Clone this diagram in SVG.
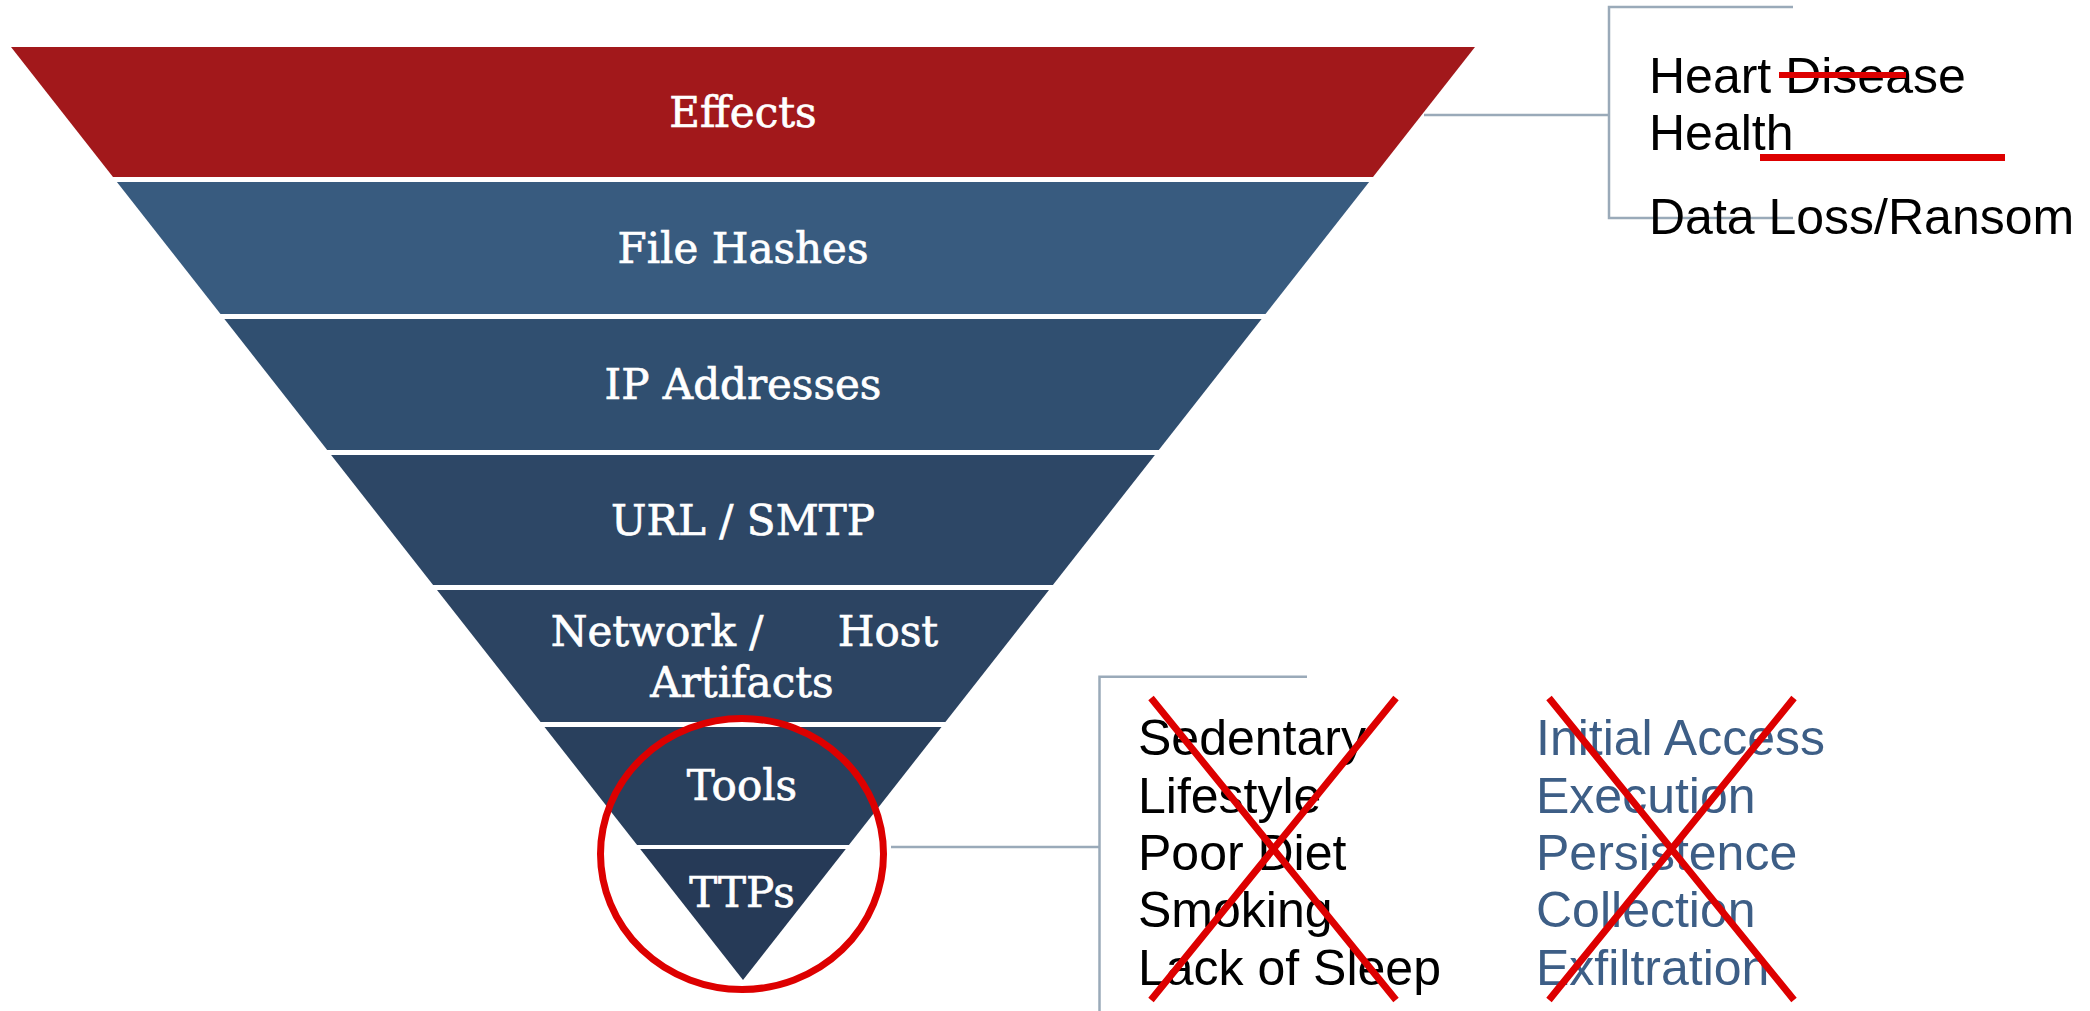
<svg xmlns="http://www.w3.org/2000/svg" width="2090" height="1011" viewBox="0 0 2090 1011">
<style>
.lbl{font-family:"DejaVu Serif","Liberation Serif",serif;font-size:42px;fill:#ffffff;stroke:#ffffff;stroke-width:0.7;text-anchor:middle}
.side{font-family:"Liberation Sans",Arial,sans-serif;font-size:50px}
.blk{fill:#000000}
.blu{fill:#3d5e86}
.conn{stroke:#9aaab9;stroke-width:2.5;fill:none}
.red{stroke:#dd0000;fill:none}
</style>
<rect width="2090" height="1011" fill="#ffffff"/>
<g id="band-effects">
<polygon points="11,47 1475,47 1373,177 113,177" fill="#a2181b"/>
<text class="lbl" x="743" y="127">Effects</text>
</g>
<g id="band-file-hashes">
<polygon points="116.9,182 1369.1,182 1265.5,314 220.5,314" fill="#385b7f"/>
<text class="lbl" x="743" y="263">File Hashes</text>
</g>
<g id="band-ip-addresses">
<polygon points="224.4,319 1261.6,319 1158.8,450 327.2,450" fill="#304f70"/>
<text class="lbl" x="743" y="399">IP Addresses</text>
</g>
<g id="band-url-smtp">
<polygon points="331.1,455 1154.9,455 1052.9,585 433.1,585" fill="#2d4766"/>
<text class="lbl" x="743" y="535">URL / SMTP</text>
</g>
<g id="band-network-host">
<polygon points="437,590 1049,590 945.4,722 540.6,722" fill="#2c4462"/>
<text class="lbl" y="646"><tspan x="657">Network /</tspan><tspan x="888">Host</tspan></text>
<text class="lbl" x="742" y="697">Artifacts</text>
</g>
<g id="band-tools">
<polygon points="544.5,727 941.5,727 848.9,845 637.1,845" fill="#29405d"/>
<text class="lbl" x="742" y="800">Tools</text>
</g>
<g id="band-ttps">
<polygon points="640.2,849 845.8,849 743,980" fill="#263a57"/>
<text class="lbl" x="742" y="907">TTPs</text>
</g>
<g id="connectors">
<path class="conn" d="M1424,115 H1609 M1793,7 H1609 V218 H1793"/>
<path class="conn" d="M891,847 H1099.5 M1307,676.7 H1099.5 V1011"/>
</g>
<g id="effects-list">
<text class="side blk" x="1649" y="93">Heart Disease</text>
<text class="side blk" x="1649" y="150">Health</text>
<text class="side blk" x="1649" y="234">Data Loss/Ransom</text>
<line class="red" x1="1779" y1="75" x2="1906" y2="75" stroke-width="6"/>
<line class="red" x1="1760" y1="157.5" x2="2005" y2="157.5" stroke-width="7"/>
</g>
<g id="ttp-health-list">
<text class="side blk" x="1138" y="755">Sedentary</text>
<text class="side blk" x="1138" y="813">Lifestyle</text>
<text class="side blk" x="1138" y="870">Poor Diet</text>
<text class="side blk" x="1138" y="927">Smoking</text>
<text class="side blk" x="1138" y="985">Lack of Sleep</text>
<path class="red" stroke-width="7" d="M1151,698 L1396,1000 M1396,698 L1151,1000"/>
</g>
<g id="ttp-attack-list">
<text class="side blu" x="1536" y="755">Initial Access</text>
<text class="side blu" x="1536" y="813">Execution</text>
<text class="side blu" x="1536" y="870">Persistence</text>
<text class="side blu" x="1536" y="927">Collection</text>
<text class="side blu" x="1536" y="985">Exfiltration</text>
<path class="red" stroke-width="7" d="M1549,698 L1794,1000 M1794,698 L1549,1000"/>
</g>
<g id="highlight-circle">
<ellipse class="red" cx="742" cy="854" rx="141.5" ry="135.5" stroke-width="7"/>
</g>
</svg>
